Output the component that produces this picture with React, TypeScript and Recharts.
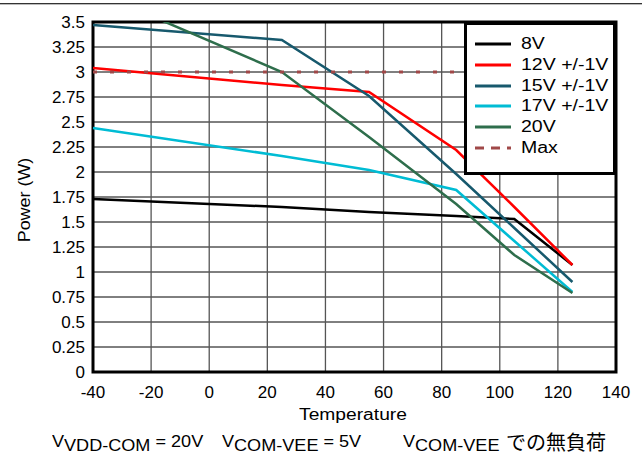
import React from 'react';
import { LineChart, Line, XAxis, YAxis, CartesianGrid, Legend, ReferenceArea } from 'recharts';

// temperature points shared by every curve (°C)
const temps = [-40, 25, 55, 85, 105, 125];

const v8 = [1.73, 1.65, 1.6, 1.56, 1.53, 1.07];
const v12 = [3.04, 2.87, 2.8, 2.22, 1.65, 1.07];
const v15 = [3.47, 3.32, 2.76, 1.98, 1.44, 0.9];
const v17 = [2.44, 2.16, 2.02, 1.82, 1.31, 0.8];
const v20 = [3.81, 3.0, 2.35, 1.68, 1.17, 0.79];
const vMax = [3, 3, 3, 3, 3, 3];

const xTicks = [-40, -20, 0, 20, 40, 60, 80, 100, 120, 140];
const yTicks = [0, 0.25, 0.5, 0.75, 1, 1.25, 1.5, 1.75, 2, 2.25, 2.5, 2.75, 3, 3.25, 3.5];

const series = [
  { key: 'v8', name: '8V', color: '#000000', dashed: false },
  { key: 'v12', name: '12V +/-1V', color: '#ff0000', dashed: false },
  { key: 'v15', name: '15V +/-1V', color: '#17596d', dashed: false },
  { key: 'v17', name: '17V +/-1V', color: '#00bcd4', dashed: false },
  { key: 'v20', name: '20V', color: '#2e6e4c', dashed: false },
  { key: 'max', name: 'Max', color: '#a04848', dashed: true },
];

const data = temps.map((t, i) => ({
  t,
  v8: v8[i],
  v12: v12[i],
  v15: v15[i],
  v17: v17[i],
  v20: v20[i],
  max: vMax[i],
}));

const FONT = 'Arial, "Liberation Sans", sans-serif';

// legend keeps the series order (recharts would sort it by name)
const LegendBox = () => (
  <div
    style={{
      width: 146,
      height: 138,
      border: '3px solid #000',
      background: '#fff',
      fontFamily: FONT,
      fontSize: 16,
      color: '#000',
      paddingTop: 9,
      boxSizing: 'content-box',
    }}
  >
    {series.map((s) => (
      <div key={s.key} style={{ display: 'flex', alignItems: 'center', height: 20.7 }}>
        <svg width={36} height={6} style={{ marginLeft: 8, marginRight: 10, flex: 'none' }}>
          <line x1={0} y1={3} x2={36} y2={3} stroke={s.color} strokeWidth={3} strokeDasharray={s.dashed ? '9 7' : undefined} />
        </svg>
        <span style={{ display: 'inline-block', transform: 'scaleX(1.22)', transformOrigin: 'left center', whiteSpace: 'nowrap' }}>
          {s.name}
        </span>
      </div>
    ))}
  </div>
);

// subscript in the source is full size, only dropped below the baseline
const Sub = ({ children }: { children: React.ReactNode }) => (
  <span style={{ position: 'relative', top: 4 }}>{children}</span>
);

const footStyle: React.CSSProperties = {
  position: 'absolute',
  top: 432,
  fontFamily: FONT,
  fontSize: 16,
  lineHeight: '20px',
  whiteSpace: 'nowrap',
  transform: 'scaleX(1.13)',
  transformOrigin: 'left center',
  color: '#000',
};

export default function App() {
  return (
    <div style={{ position: 'fixed', left: 0, top: 0, width: 642, height: 463, background: '#fff' }}>
      <div style={{ position: 'absolute', left: 0, top: 3, width: 642, height: 1, background: '#333' }} />
      <div style={{ position: 'absolute', left: 0, top: 4, width: 642, height: 1, background: '#bbb' }} />
      <LineChart width={642} height={463} data={data} margin={{ top: 22, right: 26, left: 0, bottom: 51 }}>
        <CartesianGrid horizontal={true} vertical={false} stroke="#000" strokeWidth={1} />
        <CartesianGrid horizontal={false} vertical={true} stroke="#555" strokeWidth={1.3} />
        <XAxis
          dataKey="t"
          type="number"
          domain={[-40, 140]}
          ticks={xTicks}
          axisLine={false}
          tickLine={false}
          tickSize={0}
          tickMargin={14}
          height={40}
          tick={{ fontSize: 17, fill: '#000', fontFamily: FONT }}
        />
        <YAxis
          type="number"
          domain={[0, 3.5]}
          ticks={yTicks}
          allowDataOverflow
          axisLine={false}
          tickLine={false}
          tickSize={0}
          tickMargin={8}
          width={93}
          interval={0}
          tick={{ fontSize: 17, fill: '#000', fontFamily: FONT }}
        />
        <Legend
          layout="vertical"
          align="center"
          verticalAlign="middle"
          content={<LegendBox />}
          wrapperStyle={{ left: 464, top: 22, width: 152, height: 144 }}
        />
        {series.map((s) => (
          <Line
            key={s.key}
            dataKey={s.key}
            name={s.name}
            stroke={s.color}
            strokeWidth={s.dashed ? 3 : 2.5}
            strokeDasharray={s.dashed ? '4 13' : undefined}
            dot={false}
            isAnimationActive={false}
          />
        ))}
        <ReferenceArea x1={-40} x2={140} y1={0} y2={3.5} fill="none" stroke="#000" strokeWidth={3} ifOverflow="visible" />
      </LineChart>
      <div
        style={{
          position: 'absolute',
          left: 25 - 60,
          top: 200 - 10,
          width: 120,
          height: 20,
          textAlign: 'center',
          transform: 'rotate(-90deg) scaleX(1.12)',
          fontFamily: FONT,
          fontSize: 16,
          lineHeight: '20px',
          color: '#000',
        }}
      >
        Power (W)
      </div>
      <div
        style={{
          position: 'absolute',
          left: 353 - 80,
          top: 405,
          width: 160,
          textAlign: 'center',
          fontFamily: FONT,
          fontSize: 16,
          lineHeight: '20px',
          color: '#000',
          transform: 'scaleX(1.2)',
        }}
      >
        Temperature
      </div>
      <div style={{ ...footStyle, left: 52 }}>
        V<Sub>VDD-COM</Sub> = 20V
      </div>
      <div style={{ ...footStyle, left: 222 }}>
        V<Sub>COM-VEE</Sub> = 5V
      </div>
      <div style={{ ...footStyle, left: 403 }}>
        V<Sub>COM-VEE</Sub>
      </div>
      <div
        style={{
          position: 'absolute',
          left: 506,
          top: 432,
          lineHeight: '22px',
          fontFamily: 'serif, "Noto Sans CJK JP"',
          fontSize: 20,
          whiteSpace: 'nowrap',
          color: '#000',
        }}
      >
        での無負荷
      </div>
    </div>
  );
}
